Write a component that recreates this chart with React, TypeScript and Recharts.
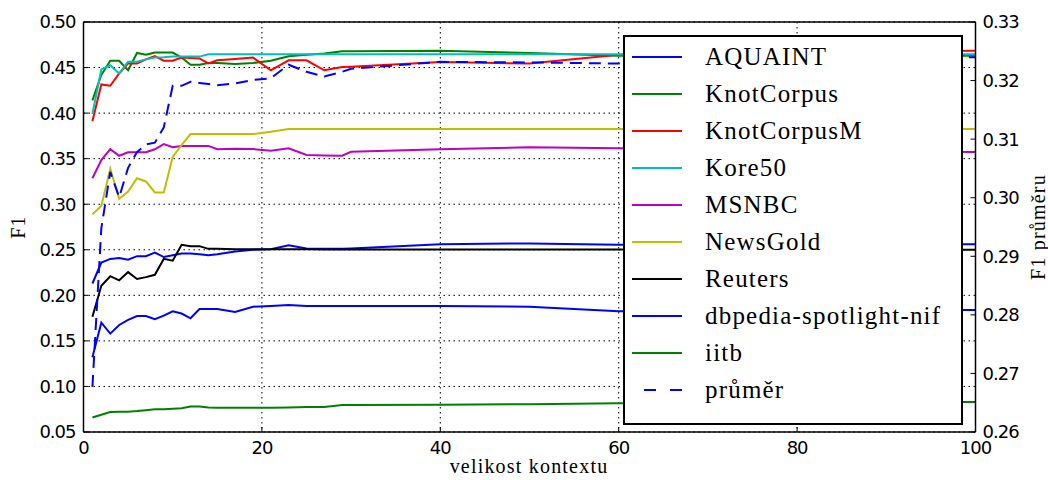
import React from 'react';
import { LineChart, Line, XAxis, YAxis, CartesianGrid, ReferenceLine } from 'recharts';

// context sizes (x axis)
const contextSizes = [1, 2, 3, 4, 5, 6, 7, 8, 9, 10, 11, 12, 13, 14, 15, 17, 19, 21, 23, 25, 27, 29, 30, 40, 50, 60, 70, 80, 90, 100];

const aquaint = [0.213, 0.236, 0.240, 0.241, 0.239, 0.243, 0.243, 0.247, 0.242, 0.244, 0.246, 0.246, 0.245, 0.244, 0.245, 0.248, 0.250, 0.2505, 0.255, 0.2515, 0.251, 0.251, 0.2515, 0.256, 0.257, 0.2555, 0.256, 0.256, 0.256, 0.256];
const knotCorpus = [0.414, 0.442, 0.4575, 0.4575, 0.447, 0.466, 0.464, 0.4665, 0.4665, 0.4665, 0.461, 0.453, 0.453, 0.455, 0.455, 0.454, 0.455, 0.4575, 0.4625, 0.464, 0.4655, 0.468, 0.468, 0.4685, 0.466, 0.463, 0.463, 0.463, 0.463, 0.463];
const knotCorpusM = [0.391, 0.4315, 0.430, 0.4435, 0.4545, 0.4545, 0.459, 0.4625, 0.4575, 0.4575, 0.461, 0.4605, 0.460, 0.4545, 0.458, 0.4595, 0.461, 0.447, 0.458, 0.458, 0.447, 0.4505, 0.451, 0.456, 0.4545, 0.464, 0.465, 0.467, 0.468, 0.4685];
const kore50 = [0.399, 0.448, 0.4525, 0.4435, 0.4565, 0.4565, 0.459, 0.461, 0.4612, 0.462, 0.462, 0.462, 0.462, 0.4645, 0.4645, 0.4645, 0.4645, 0.4645, 0.4645, 0.4645, 0.4645, 0.4645, 0.4645, 0.4645, 0.4645, 0.4645, 0.4645, 0.4645, 0.4645, 0.4645];
const msnbc = [0.3285, 0.3485, 0.3605, 0.3532, 0.357, 0.357, 0.357, 0.3603, 0.366, 0.3625, 0.364, 0.364, 0.364, 0.364, 0.3603, 0.3609, 0.3605, 0.3588, 0.3614, 0.354, 0.3535, 0.3532, 0.3576, 0.3603, 0.3625, 0.3614, 0.360, 0.359, 0.358, 0.3573];
const newsGold = [0.289, 0.298, 0.339, 0.306, 0.314, 0.3285, 0.325, 0.313, 0.313, 0.352, 0.365, 0.377, 0.377, 0.377, 0.377, 0.377, 0.377, 0.3796, 0.3826, 0.3826, 0.3826, 0.3826, 0.3826, 0.3826, 0.3826, 0.3826, 0.3826, 0.3826, 0.3826, 0.3826];
const reuters = [0.1765, 0.2105, 0.221, 0.2165, 0.2255, 0.218, 0.220, 0.2225, 0.240, 0.238, 0.2555, 0.254, 0.254, 0.251, 0.251, 0.2505, 0.2505, 0.2505, 0.2505, 0.2505, 0.2502, 0.2502, 0.2502, 0.2502, 0.2502, 0.2502, 0.2501, 0.2501, 0.250, 0.250];
const dbpedia = [0.132, 0.170, 0.158, 0.1675, 0.173, 0.1773, 0.1773, 0.1737, 0.1777, 0.1825, 0.180, 0.1748, 0.185, 0.185, 0.185, 0.1817, 0.1875, 0.1883, 0.1894, 0.1883, 0.1883, 0.1883, 0.1883, 0.1883, 0.1875, 0.1825, 0.183, 0.1835, 0.184, 0.184];
const iitb = [0.066, 0.069, 0.072, 0.0723, 0.0723, 0.073, 0.074, 0.075, 0.075, 0.0755, 0.076, 0.078, 0.078, 0.077, 0.0765, 0.0765, 0.0767, 0.0767, 0.077, 0.0775, 0.0775, 0.0795, 0.0796, 0.0798, 0.0805, 0.0815, 0.082, 0.0825, 0.0828, 0.083];
// average, plotted against the right axis
const prumer = [0.2677, 0.2948, 0.3044, 0.3001, 0.3051, 0.3078, 0.3091, 0.3094, 0.312, 0.3191, 0.3191, 0.3198, 0.3196, 0.3194, 0.3192, 0.3195, 0.3201, 0.3204, 0.3227, 0.3215, 0.3207, 0.3215, 0.322, 0.3232, 0.3231, 0.3229, 0.3232, 0.3235, 0.3238, 0.324];

const xTicks = [0, 20, 40, 60, 80, 100];
const leftTicks = [0.05, 0.1, 0.15, 0.2, 0.25, 0.3, 0.35, 0.4, 0.45, 0.5];
const rightTicks = [0.26, 0.27, 0.28, 0.29, 0.3, 0.31, 0.32, 0.33];

const series = [
  { name: 'AQUAINT', values: aquaint, color: '#0000ff' },
  { name: 'KnotCorpus', values: knotCorpus, color: '#008000' },
  { name: 'KnotCorpusM', values: knotCorpusM, color: '#ff0000' },
  { name: 'Kore50', values: kore50, color: '#00bfbf' },
  { name: 'MSNBC', values: msnbc, color: '#bf00bf' },
  { name: 'NewsGold', values: newsGold, color: '#bfbf00' },
  { name: 'Reuters', values: reuters, color: '#000000' },
  { name: 'dbpedia-spotlight-nif', values: dbpedia, color: '#0000ff' },
  { name: 'iitb', values: iitb, color: '#008000' },
];
const avgName = 'průměr';

const data = contextSizes.map((x, i) => {
  const row: Record<string, number> = { x };
  series.forEach((s) => { row[s.name] = s.values[i]; });
  row[avgName] = prumer[i];
  return row;
});

const tickStyle = { fill: '#000', fontSize: 18, fontFamily: 'DejaVu Sans', letterSpacing: -1 };
const serif = '"Liberation Serif", serif';

const LegendBox = () => {
  const items = [...series.map((s) => ({ name: s.name, color: s.color, dashed: false })), { name: avgName, color: '#0000ff', dashed: true }];
  return (
    <div style={{ position: 'absolute', left: 623, top: 35, width: 340, height: 390, boxSizing: 'border-box', border: '2px solid #000', background: '#fff' }}>
      {items.map((it, i) => (
        <div key={it.name} style={{ position: 'absolute', left: 0, top: 20 + 37 * i - 15, height: 30, width: '100%' }}>
          <svg width={60} height={30} style={{ position: 'absolute', left: 7, top: 0 }}>
            {it.dashed
              ? <line x1={12} y1={15} x2={50} y2={15} stroke={it.color} strokeWidth={2} strokeDasharray="12 14" />
              : <line x1={0} y1={15} x2={50} y2={15} stroke={it.color} strokeWidth={2} />}
          </svg>
          <span style={{ position: 'absolute', left: 80, top: 0, lineHeight: '30px', fontFamily: serif, fontSize: 25, letterSpacing: 1.2, whiteSpace: 'nowrap' }}>{it.name}</span>
        </div>
      ))}
    </div>
  );
};

export default function App() {
  return (
    <div style={{ position: 'absolute', left: 0, top: 0, width: 1048, height: 480, background: '#fff' }}>
      <LineChart width={1048} height={480} data={data} margin={{ top: 22, right: 12.5, bottom: 18, left: 23.5 }}>
        <CartesianGrid yAxisId="left" stroke="#000" strokeDasharray="1.5 3.5" strokeWidth={1} />
        {/* negative tick sizes give matplotlib-style inward ticks */}
        <XAxis dataKey="x" type="number" domain={[0, 100]} ticks={xTicks} height={30} tickSize={-5} tickMargin={14}
          tick={tickStyle} tickLine={{ stroke: '#000' }} axisLine={{ stroke: '#000', strokeWidth: 1.5 }} />
        <YAxis yAxisId="left" type="number" domain={[0.05, 0.5]} ticks={leftTicks} width={60} tickSize={-5} tickMargin={13}
          tickFormatter={(v: number) => v.toFixed(2)} tick={tickStyle} tickLine={{ stroke: '#000' }} axisLine={{ stroke: '#000', strokeWidth: 1.5 }} />
        <YAxis yAxisId="right" orientation="right" type="number" domain={[0.26, 0.33]} ticks={rightTicks} width={60} tickSize={-5} tickMargin={12}
          tickFormatter={(v: number) => v.toFixed(2)} tick={tickStyle} tickLine={{ stroke: '#000' }} axisLine={{ stroke: '#000', strokeWidth: 1.5 }} />
        <ReferenceLine yAxisId="left" y={0.5} stroke="#000" strokeWidth={1.5} />
        {series.map((s) => (
          <Line key={s.name} yAxisId="left" type="linear" dataKey={s.name} stroke={s.color} strokeWidth={2}
            dot={false} isAnimationActive={false} />
        ))}
        <Line yAxisId="right" type="linear" dataKey={avgName} stroke="#0000ff" strokeWidth={2} strokeDasharray="12 7"
          dot={false} isAnimationActive={false} />
      </LineChart>
      <LegendBox />
      <div style={{ position: 'absolute', left: 18, top: 227, transform: 'translate(-50%, -50%) rotate(-90deg)', fontFamily: serif, fontSize: 20, letterSpacing: 1.2, whiteSpace: 'nowrap' }}>F1</div>
      <div style={{ position: 'absolute', left: 529, top: 466, transform: 'translate(-50%, -50%)', fontFamily: serif, fontSize: 20, letterSpacing: 1.2, whiteSpace: 'nowrap' }}>velikost kontextu</div>
      <div style={{ position: 'absolute', left: 1038, top: 227, transform: 'translate(-50%, -50%) rotate(-90deg)', fontFamily: serif, fontSize: 20, letterSpacing: 1.2, whiteSpace: 'nowrap' }}>F1 průměru</div>
    </div>
  );
}
